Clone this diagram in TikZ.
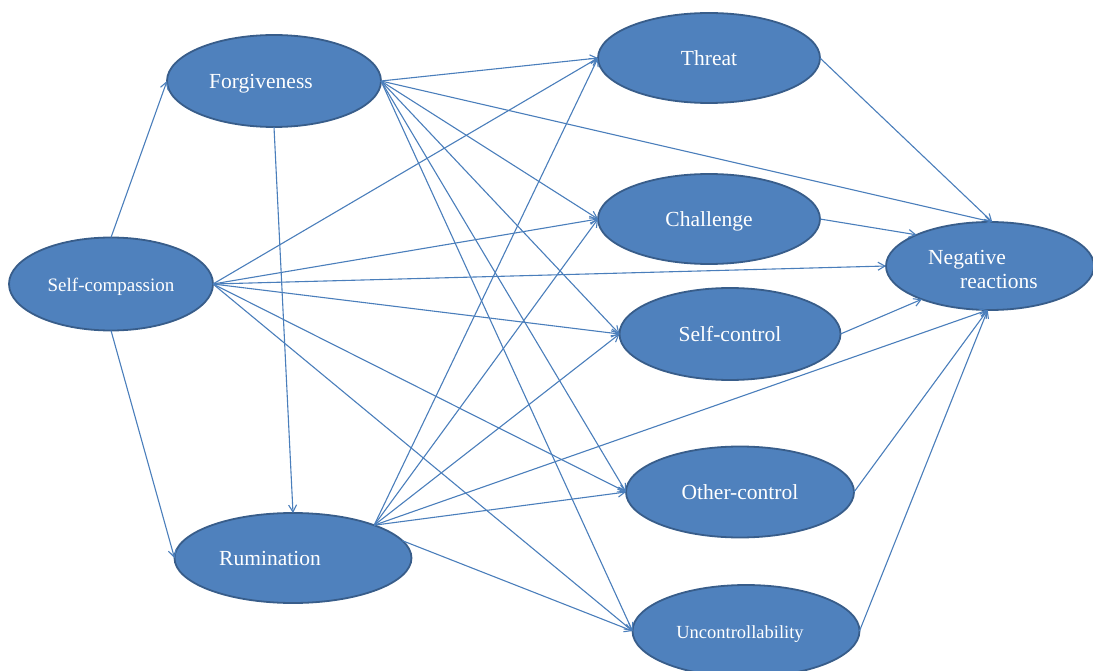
\documentclass[tikz,border=0pt]{standalone}
\usepackage{fontspec}
\setmainfont{Liberation Serif}
\usetikzlibrary{shapes.geometric,arrows.meta}
\definecolor{ovalfill}{HTML}{4F81BD}
\definecolor{ovalrim}{HTML}{385D8A}
\definecolor{linkcol}{HTML}{4A7EBB}
\begin{document}
\begin{tikzpicture}[x=1pt,y=-1pt,
  oval/.style={ellipse, fill=ovalfill, draw=ovalrim, line width=1.8pt,
    inner sep=0pt, outer sep=0pt, text=white,
    font=\fontsize{21.5}{24}\selectfont},
  oneline/.style={text height=18pt, text depth=3pt},
  link/.style={draw=linkcol, line width=1.1pt,
    -{Straight Barb[length=7pt,width=8pt]}}]
\path[use as bounding box, clip] (0,0) rectangle (1093,671);

% predictors
\node[oval, oneline, minimum width=204pt, minimum height=93pt,
      font=\fontsize{19}{20}\selectfont] (sc) at (111,284) {Self-compassion};
\node[oval, oneline, minimum width=214pt, minimum height=92pt] (fg) at (274,81) {Forgiveness\hspace*{26pt}};
\node[oval, oneline, minimum width=237pt, minimum height=90pt] (ru) at (293,558) {Rumination\hspace*{46pt}};

% appraisals
\node[oval, oneline, minimum width=222pt, minimum height=90pt] (th) at (709,58) {Threat};
\node[oval, oneline, minimum width=222pt, minimum height=90pt] (ch) at (709,219) {Challenge};
\node[oval, oneline, minimum width=221pt, minimum height=92pt] (sk) at (730,334) {Self-control};
\node[oval, oneline, minimum width=228pt, minimum height=91pt] (oc) at (740,492) {Other-control};
\node[oval, oneline, minimum width=227pt, minimum height=92pt,
      font=\fontsize{18.5}{20}\selectfont] (un) at (746,631) {Uncontrollability\hspace*{12pt}};

% outcome
\node[oval, minimum width=208pt, minimum height=88pt, align=left] (nr) at (990,266)
  {\rule{0pt}{22pt}Negative\\\hspace*{32pt}reactions\hspace*{14pt}};

% self-compassion paths
\draw[link] (sc.north) -- (fg.west);
\draw[link] (sc.south) -- (ru.west);
\draw[link] (sc.east) -- (th.west);
\draw[link] (sc.east) -- (ch.west);
\draw[link] (sc.east) -- (nr.west);
\draw[link] (sc.east) -- (sk.west);
\draw[link] (sc.east) -- (oc.west);
\draw[link] (sc.east) -- (un.west);

% forgiveness paths
\draw[link] (fg.south) -- (ru.north);
\draw[link] (fg.east) -- (th.west);
\draw[link] (fg.east) -- (ch.west);
\draw[link] (fg.east) -- (sk.west);
\draw[link] (fg.east) -- (oc.west);
\draw[link] (fg.east) -- (un.west);
\draw[link] (fg.east) -- (nr.87);

% rumination paths
\draw[link] (ru.22) -- (th.west);
\draw[link] (ru.22) -- (ch.west);
\draw[link] (ru.22) -- (sk.west);
\draw[link] (ru.22) -- (oc.west);
\draw[link] (ru.22) -- (nr.267);
\draw[link] (ru.9) -- (un.west);

% appraisals to negative reactions
\draw[link] (th.east) -- (nr.87);
\draw[link] (ch.east) -- (nr.157);
\draw[link] (sk.east) -- (nr.206);
\draw[link] (oc.east) -- (nr.267);
\draw[link] (un.east) -- (nr.267);
\end{tikzpicture}
\end{document}
